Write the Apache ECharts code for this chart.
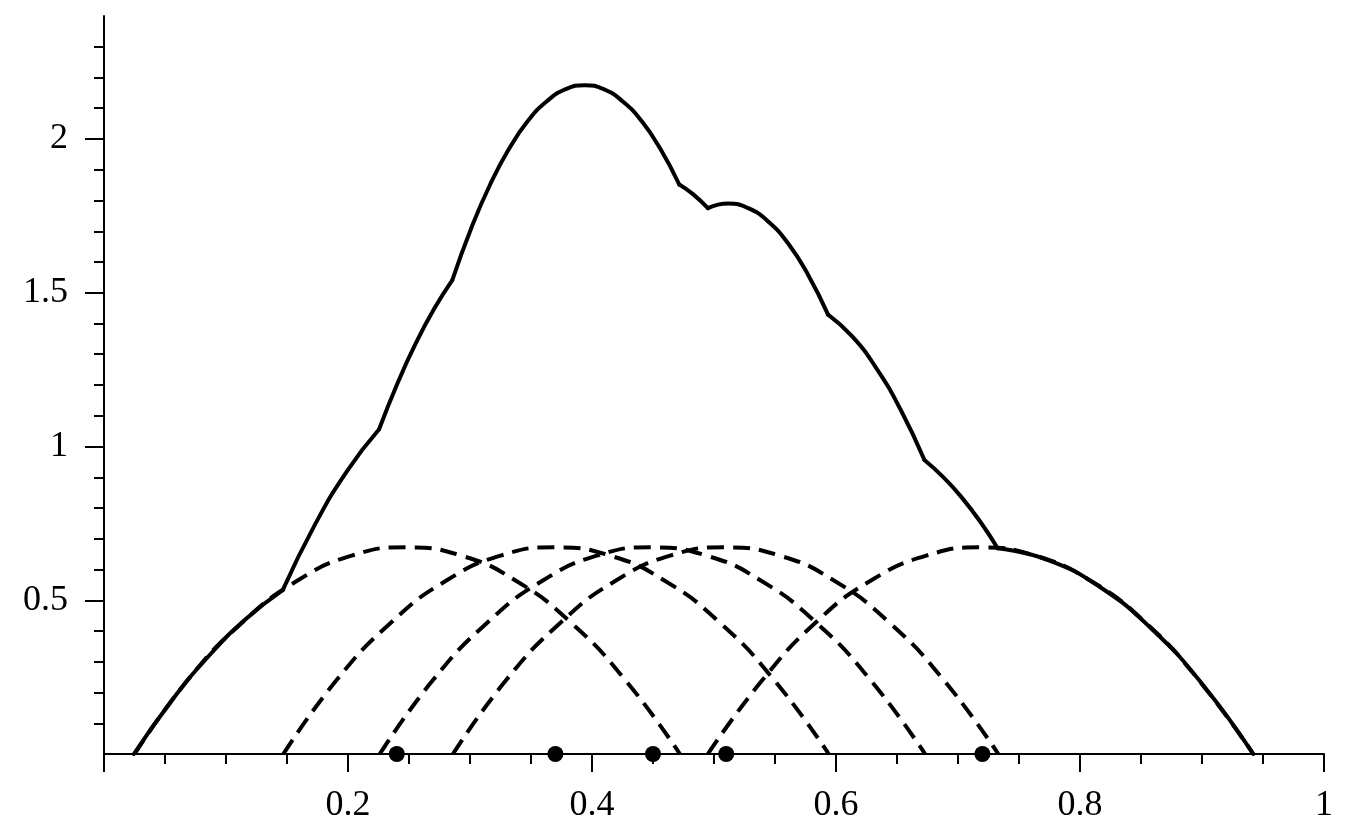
<!DOCTYPE html>
<html>
<head>
<meta charset="utf-8">
<title>Kernel density</title>
<script src="https://cdn.jsdelivr.net/npm/echarts@6/dist/echarts.min.js"></script>
<style>
  html, body { margin: 0; padding: 0; background: #fff; }
  #chart { width: 1347px; height: 838px; }
</style>
</head>
<body>
<div id="chart"></div>
<script>
// sample points (dots on the axis)
const samplePoints = [0.24, 0.37, 0.45, 0.51, 0.72];

// single kernels
const kernel1 = [[0.025, 0], [0.069, 0.242], [0.114, 0.43], [0.159, 0.565], [0.203, 0.645], [0.248, 0.672], [0.293, 0.645], [0.337, 0.565], [0.382, 0.43], [0.427, 0.242], [0.472, 0]];
const kernel2 = [[0.147, 0], [0.191, 0.242], [0.236, 0.43], [0.281, 0.565], [0.325, 0.645], [0.37, 0.672], [0.415, 0.645], [0.459, 0.565], [0.504, 0.43], [0.549, 0.242], [0.594, 0]];
const kernel3 = [[0.226, 0], [0.27, 0.242], [0.315, 0.43], [0.36, 0.565], [0.404, 0.645], [0.449, 0.672], [0.494, 0.645], [0.538, 0.565], [0.583, 0.43], [0.628, 0.242], [0.673, 0]];
const kernel4 = [[0.286, 0], [0.33, 0.242], [0.375, 0.43], [0.42, 0.565], [0.464, 0.645], [0.509, 0.672], [0.554, 0.645], [0.598, 0.565], [0.643, 0.43], [0.688, 0.242], [0.733, 0]];
const kernel5 = [[0.495, 0], [0.54, 0.242], [0.584, 0.43], [0.629, 0.565], [0.674, 0.645], [0.719, 0.672], [0.763, 0.645], [0.808, 0.565], [0.853, 0.43], [0.897, 0.242], [0.942, 0]];

// summed density (solid line) and the x positions of its corners
const densityCurve = [
  [0.0245, 0], [0.055, 0.171], [0.0855, 0.317], [0.116, 0.438], [0.1465, 0.533],
  [0.1728, 0.745], [0.1992, 0.92], [0.2255, 1.056],
  [0.2405, 1.205], [0.2555, 1.335], [0.2705, 1.447], [0.2855, 1.541],
  [0.301, 1.71], [0.3165, 1.852], [0.332, 1.968], [0.3475, 2.059], [0.363, 2.123], [0.3785, 2.162],
  [0.394, 2.175], [0.4095, 2.162], [0.425, 2.123], [0.4405, 2.059], [0.456, 1.968], [0.4715, 1.852],
  [0.483, 1.82], [0.495, 1.775],
  [0.5116, 1.79], [0.528, 1.775], [0.5444, 1.732], [0.5608, 1.66], [0.5772, 1.558], [0.5935, 1.429],
  [0.6133, 1.358], [0.633, 1.255], [0.6528, 1.121], [0.6725, 0.956],
  [0.7025, 0.837], [0.7325, 0.669],
  [0.7744, 0.63], [0.8163, 0.543], [0.8582, 0.409], [0.9001, 0.228], [0.942, 0]
];
const cornerX = [0.1465, 0.2255, 0.2855, 0.4715, 0.495, 0.5935, 0.6725, 0.7325];

// axis ticks
const xLabelValues = [0.2, 0.4, 0.6, 0.8, 1];
const yMajorTicks = [0.5, 1, 1.5, 2];
const yMinorTicks = [0.1, 0.2, 0.3, 0.4, 0.6, 0.7, 0.8, 0.9, 1.1, 1.2, 1.3, 1.4, 1.6, 1.7, 1.8, 1.9, 2.1, 2.2, 2.3];

const FONT = "'Liberation Serif', 'Times New Roman', serif";
const black = "#000";

// split the density into smooth pieces between corners
const pieces = [];
let cur = [];
densityCurve.forEach((p) => {
  cur.push(p);
  if (cornerX.includes(p[0])) {
    pieces.push(cur);
    cur = [p];
  }
});
pieces.push(cur);

const kernelSeries = [kernel1, kernel2, kernel3, kernel4, kernel5].map((k) => ({
  type: "line",
  data: k,
  smooth: true,
  showSymbol: false,
  silent: true,
  z: 2,
  lineStyle: { color: black, width: 4, type: [17, 9] },
}));

const densitySeries = pieces.map((seg) => ({
  type: "line",
  data: seg,
  smooth: true,
  showSymbol: false,
  silent: true,
  z: 3,
  lineStyle: { color: black, width: 4, cap: "round", join: "round" },
}));

const chart = echarts.init(document.getElementById("chart"));
chart.setOption({
  animation: false,
  backgroundColor: "#fff",
  grid: { left: 104, right: 23, top: 16, bottom: 84 },
  xAxis: {
    type: "value",
    min: 0,
    max: 1,
    interval: 0.2,
    axisLine: { show: true, lineStyle: { color: black, width: 2 } },
    axisTick: { show: true, length: 18, lineStyle: { color: black, width: 2 } },
    minorTick: { show: true, splitNumber: 4, length: 10, lineStyle: { color: black, width: 2 } },
    axisLabel: {
      customValues: xLabelValues,
      margin: 34,
      color: black,
      fontFamily: FONT,
      fontSize: 36,
    },
    splitLine: { show: false },
    minorSplitLine: { show: false },
  },
  yAxis: [
    {
      type: "value",
      position: "left",
      min: 0,
      max: 2.4,
      axisLine: { show: true, lineStyle: { color: black, width: 2 } },
      axisTick: { show: true, customValues: yMajorTicks, length: 19, lineStyle: { color: black, width: 2 } },
      axisLabel: {
        customValues: yMajorTicks,
        margin: 36,
        color: black,
        fontFamily: FONT,
        fontSize: 36,
      },
      splitLine: { show: false },
    },
    {
      type: "value",
      position: "left",
      offset: 0,
      min: 0,
      max: 2.4,
      axisLine: { show: false },
      axisTick: { show: true, customValues: yMinorTicks, length: 10, lineStyle: { color: black, width: 2 } },
      axisLabel: { show: false },
      splitLine: { show: false },
    },
  ],
  series: [
    ...kernelSeries,
    ...densitySeries,
    {
      type: "scatter",
      data: samplePoints.map((x) => [x, 0]),
      symbol: "circle",
      symbolSize: 16,
      clip: false,
      silent: true,
      z: 4,
      itemStyle: { color: black, opacity: 1 },
    },
  ],
});
</script>
</body>
</html>
